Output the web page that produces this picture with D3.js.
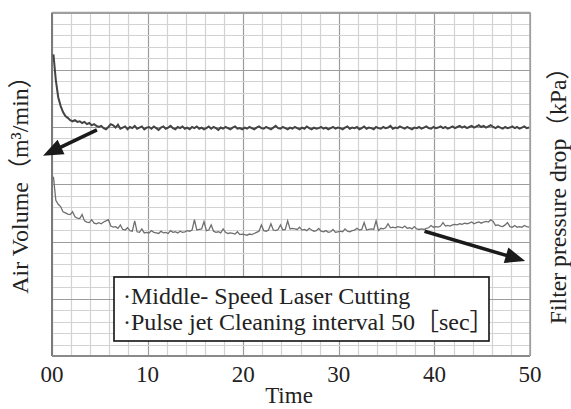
<!DOCTYPE html>
<html>
<head>
<meta charset="utf-8">
<script src="https://cdn.jsdelivr.net/npm/d3@7"></script>
<style>
html,body{margin:0;padding:0;background:#fff;}
</style>
</head>
<body>
<div id="chart"></div>
<script>
// time axis (min)
var timeTicks=[0,10,20,30,40,50];
var timeTickLabels=["00","10","20","30","40","50"];
var sampleStart=0.15, sampleStep=0.25;

// values, in grid units (1 unit = one major row)
var airVolume=[
 5.27,4.82,4.52,4.37,4.26,4.19,4.16,4.12,4.10,4.12,4.09,4.10,4.07,4.09,4.05,4.07,4.03,4.05,4.02,4.00,
 4.02,3.98,3.96,4.00,4.05,4.03,3.99,4.04,3.97,3.99,4.01,3.96,4.00,3.98,4.02,3.97,3.99,4.01,3.96,3.99,
 4.00,3.97,4.01,3.98,3.95,3.99,4.01,3.97,3.99,4.02,3.98,3.96,4.00,3.98,4.01,3.97,3.99,3.96,4.00,3.98,
 4.01,3.97,3.99,3.96,3.98,4.01,3.97,4.00,3.98,3.95,3.99,3.97,4.00,3.98,3.96,3.99,4.01,3.97,3.98,3.96,
 3.99,3.97,4.00,3.98,3.96,3.99,4.01,3.98,3.97,4.00,3.98,3.96,3.99,4.02,3.98,3.97,4.00,3.98,3.96,3.99,
 3.97,4.00,3.98,3.96,3.99,3.97,4.01,3.98,3.96,3.99,3.97,3.98,4.00,3.97,3.99,3.96,3.98,4.00,3.97,3.99,
 3.98,3.96,3.99,4.01,3.97,3.99,3.98,4.00,3.96,3.98,4.01,3.97,3.99,3.98,3.96,4.00,3.98,3.97,4.00,3.98,
 3.99,4.02,3.97,3.99,3.98,4.01,3.99,3.97,4.00,3.98,3.96,3.99,3.98,4.00,3.97,3.99,4.01,3.98,3.97,4.00,
 3.98,3.99,4.01,3.98,4.00,3.97,3.99,4.01,3.98,4.00,4.02,3.99,4.01,3.98,4.00,4.02,3.99,4.01,4.03,4.00,
 4.02,3.99,4.01,4.03,4.00,3.98,4.01,3.99,3.97,4.00,3.98,3.99,4.01,3.98,4.00,3.97,3.99,4.01,3.98,3.99
];
var pressureDrop=[
 3.13,2.72,2.65,2.61,2.52,2.50,2.48,2.47,2.52,2.43,2.41,2.40,2.47,2.36,2.34,2.33,2.38,2.32,2.31,2.33,
 2.31,2.34,2.36,2.38,2.27,2.25,2.26,2.23,2.29,2.21,2.20,2.24,2.19,2.18,2.36,2.17,2.16,2.22,2.15,2.16,
 2.15,2.19,2.16,2.15,2.14,2.18,2.15,2.16,2.14,2.19,2.16,2.17,2.15,2.18,2.16,2.17,2.19,2.18,2.20,2.38,
 2.20,2.21,2.22,2.35,2.19,2.20,2.29,2.18,2.16,2.17,2.15,2.22,2.16,2.14,2.15,2.14,2.13,2.17,2.12,2.13,
 2.12,2.11,2.13,2.12,2.14,2.16,2.18,2.29,2.19,2.18,2.20,2.31,2.20,2.19,2.21,2.29,2.20,2.21,2.36,2.22,
 2.23,2.22,2.21,2.25,2.20,2.21,2.19,2.23,2.20,2.18,2.19,2.23,2.18,2.17,2.19,2.16,2.17,2.21,2.16,2.17,
 2.18,2.17,2.22,2.18,2.17,2.19,2.20,2.23,2.20,2.21,2.33,2.20,2.21,2.22,2.21,2.36,2.19,2.23,2.22,2.24,
 2.31,2.24,2.25,2.24,2.26,2.25,2.24,2.27,2.23,2.24,2.22,2.26,2.22,2.21,2.22,2.21,2.23,2.24,2.28,2.25,
 2.26,2.25,2.27,2.33,2.27,2.28,2.27,2.29,2.30,2.29,2.31,2.30,2.32,2.31,2.32,2.34,2.31,2.33,2.34,2.32,
 2.34,2.35,2.34,2.38,2.35,2.28,2.29,2.27,2.26,2.29,2.33,2.26,2.25,2.28,2.25,2.26,2.25,2.28,2.26,2.25
];
var legendLines=["·Middle- Speed Laser Cutting","·Pulse jet Cleaning interval 50［sec］"];

var serif="'Liberation Serif','DejaVu Serif','Noto Sans CJK JP'";

drawChart();

function drawChart(){
    var W=571,H=409;
    var x=d3.scaleLinear().domain([0,50]).range([52,530]);
    var y=d3.scaleLinear().domain([0,6]).range([356,12.5]);

    var svg=d3.select("#chart").append("svg")
        .attr("width",W).attr("height",H)
        .attr("font-family",serif);

    // grid
    var xMinor=d3.range(26).map(function(i){return i*2;});
    var yMinor=d3.range(31).map(function(i){return i/5;});
    var grid=svg.append("g");
    grid.selectAll(".vx").data(xMinor).enter().append("line")
        .attr("x1",function(d){return Math.round(x(d))+0.5;})
        .attr("x2",function(d){return Math.round(x(d))+0.5;})
        .attr("y1",y(6)).attr("y2",y(0))
        .attr("stroke",function(d){return d%10==0?"#9c9c9c":"#d2d2d2";})
        .attr("stroke-width",1.2);
    grid.selectAll(".hy").data(yMinor).enter().append("line")
        .attr("y1",function(d){return Math.round(y(d))+0.5;})
        .attr("y2",function(d){return Math.round(y(d))+0.5;})
        .attr("x1",x(0)).attr("x2",x(50))
        .attr("stroke",function(d,i){return i%5==0?"#9c9c9c":"#d2d2d2";})
        .attr("stroke-width",1.2);

    // frame
    svg.append("line").attr("x1",x(0)).attr("x2",x(0)).attr("y1",y(6)).attr("y2",y(0))
        .attr("stroke","#7a7a7a").attr("stroke-width",2);
    svg.append("line").attr("x1",x(0)).attr("x2",x(50)).attr("y1",y(0)).attr("y2",y(0))
        .attr("stroke","#8a8a8a").attr("stroke-width",1.8);
    svg.append("line").attr("x1",x(50)).attr("x2",x(50)).attr("y1",y(6)).attr("y2",y(0))
        .attr("stroke","#a0a0a0").attr("stroke-width",1.5);
    svg.append("line").attr("x1",x(0)).attr("x2",x(50)).attr("y1",y(6)).attr("y2",y(6))
        .attr("stroke","#a0a0a0").attr("stroke-width",1.5);

    // series
    var line=d3.line()
        .x(function(d,i){return x(sampleStart+i*sampleStep);})
        .y(function(d){return y(d);});
    svg.append("path").datum(pressureDrop)
        .attr("d",line).attr("fill","none")
        .attr("stroke","#6f6f6f").attr("stroke-width",1.3);
    svg.append("path").datum(airVolume)
        .attr("d",line).attr("fill","none")
        .attr("stroke","#444").attr("stroke-width",2);

    // arrows pointing at each axis (data units)
    var arrows=[
        {from:[4.7,3.95],to:[-0.94,3.5]},
        {from:[38.97,2.18],to:[49.5,1.66]}
    ];
    arrows.forEach(function(a){
        var x1=x(a.from[0]),y1=y(a.from[1]),x2=x(a.to[0]),y2=y(a.to[1]);
        var len=Math.hypot(x2-x1,y2-y1),ux=(x2-x1)/len,uy=(y2-y1)/len;
        var hl=20,hw=8;
        var bx=x2-ux*hl,by=y2-uy*hl;
        svg.append("line").attr("x1",x1).attr("y1",y1).attr("x2",bx+ux*2).attr("y2",by+uy*2)
            .attr("stroke","#1a1a1a").attr("stroke-width",3.6);
        svg.append("polygon")
            .attr("points",[[x2,y2],[bx-uy*hw,by+ux*hw],[bx+uy*hw,by-ux*hw]].join(" "))
            .attr("fill","#1a1a1a");
    });

    // legend box
    var lg=svg.append("g");
    lg.append("rect").attr("x",114).attr("y",277).attr("width",375).attr("height",64)
        .attr("fill","#fff").attr("stroke","#111").attr("stroke-width",1.6);
    lg.selectAll("text").data(legendLines).enter().append("text")
        .attr("x",123).attr("y",function(d,i){return 304+i*26;})
        .attr("font-size",24).attr("fill","#222")
        .text(function(d){return d;});

    // x tick labels
    svg.selectAll(".tick").data(timeTicks).enter().append("text")
        .attr("x",function(d){return x(d);}).attr("y",382)
        .attr("text-anchor","middle").attr("font-size",23).attr("fill","#222")
        .text(function(d,i){return timeTickLabels[i];});
    svg.append("text").attr("x",x(25)-2).attr("y",403)
        .attr("text-anchor","middle").attr("font-size",23).attr("fill","#222").text("Time");

    // y labels
    svg.append("text").attr("transform","translate(28,179) rotate(-90)")
        .attr("text-anchor","middle").attr("font-size",24).attr("fill","#222")
        .text("Air Volume（m³/min）");
    svg.append("text").attr("transform","translate(566,190) rotate(-90)")
        .attr("text-anchor","middle").attr("font-size",23.7).attr("fill","#222")
        .text("Filter pressure drop（kPa）");
}
</script>
</body>
</html>
